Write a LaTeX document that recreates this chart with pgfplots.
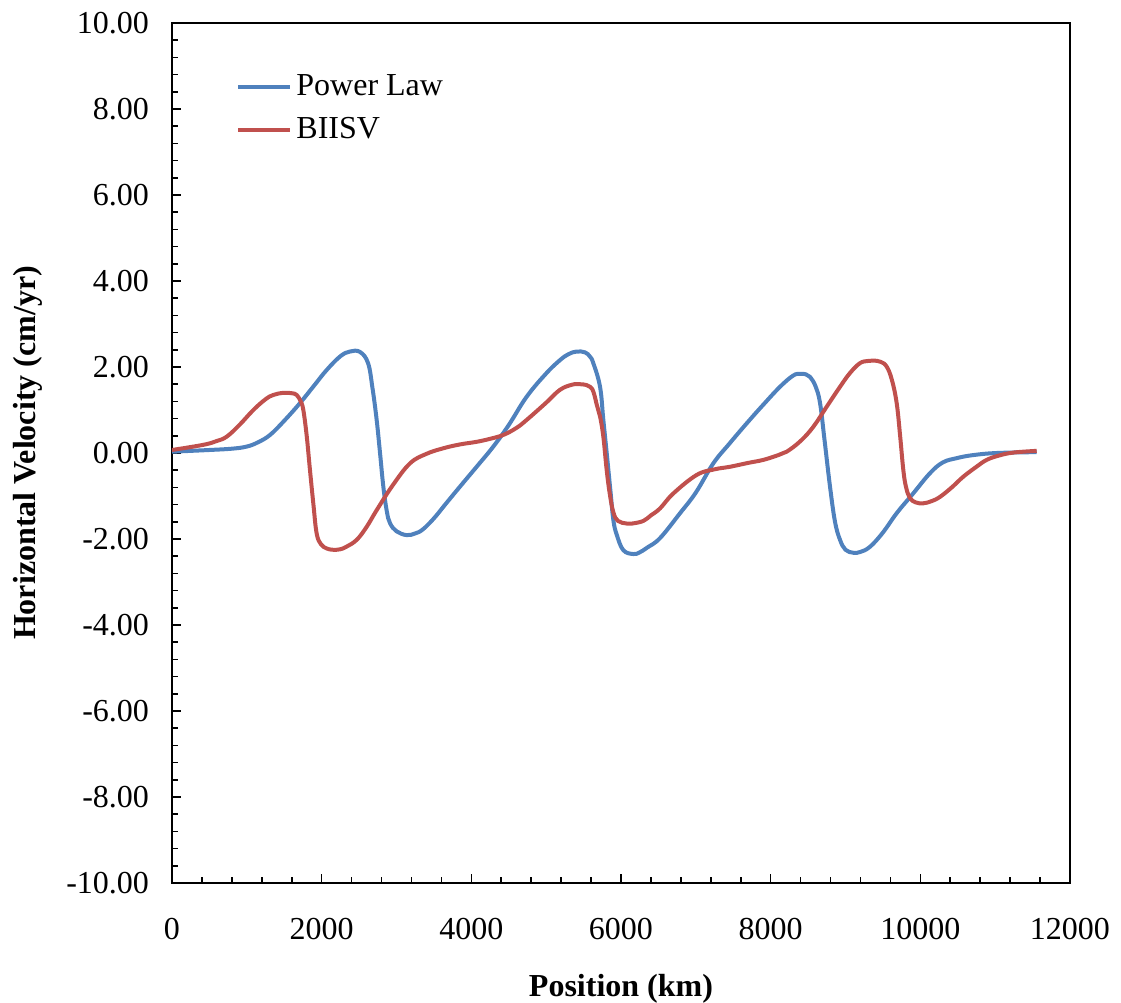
\documentclass[border=0pt]{standalone}
\usepackage{pgfplots}
\pgfplotsset{compat=1.18}
\usepackage{fontspec}
\setmainfont{Liberation Serif}

\definecolor{plblue}{HTML}{4F81BD}
\definecolor{bired}{HTML}{C0504D}

% Horizontal surface velocity along the profile
\pgfplotstableread{
x y
0 0.03
500 0.07
800 0.10
1000 0.15
1150 0.25
1310 0.42
1500 0.75
1710 1.16
1900 1.57
2067 1.93
2250 2.25
2379 2.36
2512 2.35
2620 2.09
2680 1.50
2735 0.77
2780 0.00
2824 -0.78
2870 -1.35
2913 -1.63
3000 -1.82
3136 -1.91
3250 -1.87
3350 -1.78
3500 -1.52
3650 -1.20
3849 -0.78
4071 -0.32
4294 0.15
4500 0.65
4740 1.31
5000 1.85
5185 2.16
5300 2.30
5408 2.36
5520 2.34
5586 2.24
5630 2.09
5720 1.54
5764 0.77
5809 0.00
5860 -0.90
5898 -1.56
5943 -1.90
6031 -2.26
6165 -2.35
6250 -2.31
6350 -2.20
6521 -1.98
6789 -1.40
7000 -0.92
7234 -0.24
7450 0.22
7680 0.69
7900 1.12
8125 1.54
8300 1.80
8392 1.84
8470 1.83
8526 1.77
8600 1.55
8660 1.16
8720 0.30
8793 -0.78
8860 -1.60
8927 -2.02
9000 -2.25
9105 -2.32
9200 -2.30
9328 -2.18
9500 -1.85
9684 -1.40
9900 -0.95
10129 -0.47
10300 -0.22
10486 -0.12
10700 -0.05
11021 0.00
11555 0.02
}\powerlaw

\pgfplotstableread{
x y
0 0.07
418 0.19
600 0.28
731 0.38
900 0.65
1087 1.00
1250 1.25
1354 1.35
1488 1.40
1600 1.39
1666 1.35
1720 1.20
1755 1.00
1800 0.40
1844 -0.40
1890 -1.20
1933 -1.87
1990 -2.12
2067 -2.22
2150 -2.25
2245 -2.24
2330 -2.18
2468 -2.02
2600 -1.72
2735 -1.33
2950 -0.75
3181 -0.24
3400 -0.02
3626 0.11
3850 0.20
4071 0.26
4250 0.33
4427 0.42
4600 0.58
4740 0.77
5000 1.17
5185 1.47
5350 1.59
5452 1.60
5540 1.58
5586 1.54
5630 1.43
5680 1.10
5720 0.85
5764 0.38
5809 -0.40
5850 -0.95
5898 -1.38
5960 -1.58
6076 -1.64
6150 -1.64
6298 -1.58
6400 -1.45
6521 -1.29
6700 -0.94
7012 -0.51
7250 -0.38
7457 -0.32
7700 -0.23
7902 -0.16
8100 -0.05
8214 0.03
8400 0.28
8570 0.61
8750 1.08
8927 1.54
9060 1.86
9194 2.09
9300 2.14
9372 2.15
9470 2.12
9550 2.01
9620 1.70
9684 1.16
9730 0.40
9773 -0.40
9810 -0.80
9862 -1.05
9940 -1.15
10040 -1.17
10150 -1.12
10263 -1.02
10420 -0.80
10575 -0.55
10750 -0.32
10887 -0.16
11050 -0.06
11244 0.01
11555 0.05
}\biisv

\begin{document}
\begin{tikzpicture}
\begin{axis}[
  scale only axis,
  width=449pt, height=430pt,
  xmin=0, xmax=12000, ymin=-10, ymax=10,
  xtick={0,2000,...,12000},
  ytick={-10,-8,...,10},
  minor x tick num=4,
  minor y tick num=4,
  tick pos=left,
  tick align=inside,
  major tick length=4.5pt,
  minor tick length=3pt,
  every tick/.style={black, line width=0.8pt},
  axis line style={line width=1pt},
  font=\fontsize{16}{19}\selectfont,
  /pgf/number format/assume math mode=true,
  xticklabel style={/pgf/number format/fixed, /pgf/number format/1000 sep={}, yshift=-14pt},
  yticklabel style={/pgf/number format/fixed, /pgf/number format/fixed zerofill, /pgf/number format/precision=2, xshift=-8pt},
  scaled ticks=false,
  xlabel={\textbf{Position (km)}},
  ylabel={\textbf{Horizontal Velocity (cm/yr)}},
  xlabel style={at={(axis description cs:0.5,0)}, anchor=center, yshift=-53pt},
  ylabel style={at={(axis description cs:0,0.5)}, anchor=center, yshift=72pt},
  legend style={draw=none, fill=none, at={(rel axis cs:0.0713,0.9423)}, anchor=north west,
    inner sep=0pt, row sep=7.5pt, column sep=2pt,
    nodes={inner sep=0pt, text height=11pt, text depth=3pt, anchor=west}},
  legend cell align=left,
  legend image code/.code={\draw[#1] (0pt,0pt) -- (26pt,0pt);},
]
\addplot[plblue, line width=2pt, smooth, tension=0.65] table[x=x, y=y] {\powerlaw};
\addlegendentry{Power Law}
\addplot[bired, line width=2pt, smooth, tension=0.65] table[x=x, y=y] {\biisv};
\addlegendentry{BIISV}
\end{axis}
\pgfresetboundingbox
\useasboundingbox (-86pt,-60pt) rectangle (474.5pt,441.5pt);
\end{tikzpicture}
\end{document}
